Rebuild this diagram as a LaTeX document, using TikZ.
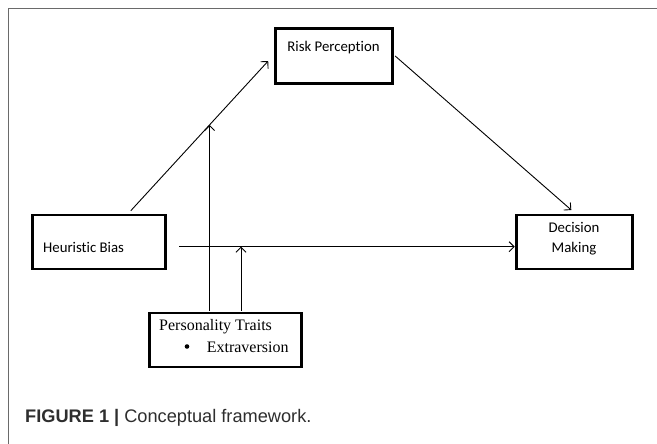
\documentclass[tikz,border=0pt]{standalone}
\usepackage{fontspec}
\setmainfont{Liberation Serif}
\newfontfamily\calfont[Ligatures=NoCommon]{Carlito}
\newfontfamily\capfont{Liberation Sans}
\usetikzlibrary{arrows.meta}
\definecolor{framegray}{HTML}{6A6A6A}
\definecolor{captext}{HTML}{2E2E2E}
\tikzset{
  boxnode/.style={draw,line width=2.9pt,inner sep=0pt},
  conn/.style={line width=0.9pt,-{Straight Barb[length=5pt,width=10pt,line width=0.9pt]}},
  caltext/.style={font=\calfont\fontsize{14.8}{20}\selectfont,inner sep=0pt},
  serftext/.style={font=\fontsize{16}{18}\selectfont,inner sep=0pt}
}
\begin{document}
\begin{tikzpicture}[x=1pt,y=-1pt]
\useasboundingbox (0,0) rectangle (657,444);
\fill[white] (0,0) rectangle (657,444);
% outer frame
\draw[framegray,line width=1.2pt] (8.4,470) -- (8.4,8.3) -- (680,8.3);

% boxes
\node[boxnode,minimum width=117pt,minimum height=55pt] (rp) at (333.7,56) {};
\node[boxnode,minimum width=133pt,minimum height=54pt] (hb) at (99,242) {};
\node[boxnode,minimum width=116pt,minimum height=54pt] (dm) at (574.6,242) {};
\node[boxnode,minimum width=152pt,minimum height=54pt] (pt) at (225.3,340) {};

% texts
\node[caltext] (rpt) at (333.5,48) {Risk Perception};
\node[caltext,anchor=west] (hbt) at (43,247) {Heuristic Bias};
\node[caltext,align=center] (dmt) at (574,239) {Decision\\Making};
\node[serftext,anchor=west] (ptt) at (159,327) {Personality Traits};
\node[circle,fill,inner sep=0pt,minimum size=4.6pt] (bul) at (187,346.5) {};
\node[serftext,anchor=west] (ext) at (206.6,347) {Extraversion};

% connector end points
\coordinate (a1s) at (130.8,210.7);
\coordinate (a1e) at (268.2,61);
\coordinate (a2s) at (395.2,56);
\coordinate (a2e) at (571.3,210);
\coordinate (a3s) at (179,246.7);
\coordinate (a3e) at (514.7,246.7);
\coordinate (m1) at (209.6,124.9);
\coordinate (m2) at (241,246.7);
\coordinate (p1) at (209.6,310.7);
\coordinate (p2) at (241,310.7);

\draw[conn] (a1s) -- (a1e);
\draw[conn] (a2s) -- (a2e);
\draw[conn] (a3s) -- (a3e);
\draw[conn] (p1) -- (m1);
\draw[conn] (p2) -- (m2);

% caption
\node[anchor=west,inner sep=0pt,text=captext,font=\capfont\fontsize{18.2}{20}\selectfont] (cap) at (25,418)
  {\textbf{FIGURE 1 |} Conceptual framework.};
\end{tikzpicture}
\end{document}
